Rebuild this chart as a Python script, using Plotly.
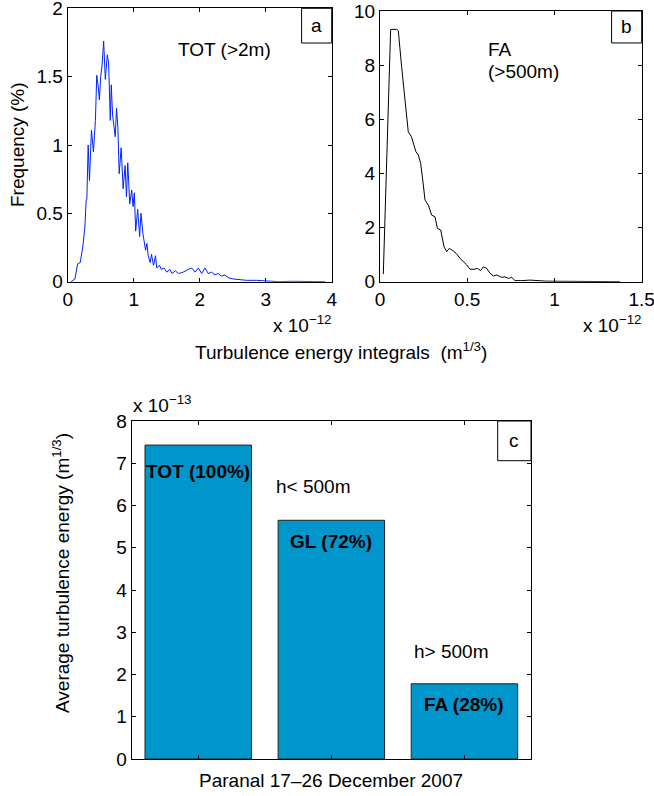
import plotly.graph_objects as go

# Panel a: TOT (>2m) histogram, x in units of 1e-12 m^1/3, y in %
tot_x = [0.05, 0.11, 0.15, 0.19, 0.23, 0.26, 0.28, 0.29, 0.31, 0.33,
         0.36, 0.39, 0.42, 0.44, 0.46, 0.48, 0.50, 0.52, 0.545, 0.57,
         0.60, 0.62, 0.645, 0.66, 0.68, 0.72, 0.74, 0.76, 0.78, 0.81,
         0.84, 0.87, 0.89, 0.91, 0.94, 0.97, 0.99, 1.01, 1.03, 1.06,
         1.09, 1.11, 1.14, 1.16, 1.18, 1.20, 1.22, 1.25, 1.27, 1.30,
         1.33, 1.35, 1.39, 1.42, 1.46, 1.50, 1.55, 1.58, 1.63, 1.68,
         1.75, 1.83, 1.88, 1.93, 1.98, 2.03, 2.08, 2.13, 2.18, 2.23,
         2.28, 2.33, 2.38, 2.43, 2.51, 2.61, 2.71, 2.86, 3.01, 3.2,
         3.4, 3.6, 3.9]
tot_y = [0.0, 0.02, 0.13, 0.14, 0.26, 0.40, 0.60, 0.60, 1.00, 0.74,
         1.11, 0.95, 1.18, 1.51, 1.44, 1.33, 1.50, 1.58, 1.76, 1.48,
         1.66, 1.60, 1.18, 1.44, 1.22, 1.06, 1.27, 1.13, 0.79, 0.98,
         0.68, 0.85, 0.62, 0.87, 0.57, 0.67, 0.55, 0.65, 0.37, 0.53,
         0.33, 0.50, 0.35, 0.29, 0.23, 0.28, 0.19, 0.14, 0.20, 0.12,
         0.19, 0.10, 0.12, 0.09, 0.10, 0.07, 0.09, 0.06, 0.08, 0.06,
         0.07, 0.09, 0.10, 0.07, 0.10, 0.06, 0.10, 0.06, 0.07, 0.05,
         0.06, 0.04, 0.05, 0.03, 0.02, 0.015, 0.01, 0.01, 0.005, 0.0,
         0.003, 0.0, 0.0]

# Panel b: FA (>500m) histogram
fa_x = [0.019, 0.061, 0.096, 0.105, 0.124, 0.143, 0.162, 0.18, 0.195, 0.206,
        0.22, 0.233, 0.245, 0.258, 0.277, 0.296, 0.315, 0.329, 0.348, 0.367,
        0.382, 0.397, 0.417, 0.436, 0.459, 0.478, 0.497, 0.516, 0.539, 0.558,
        0.577, 0.592, 0.612, 0.631, 0.650, 0.669, 0.697, 0.717, 0.736, 0.755,
        0.774, 0.812, 0.86, 0.955, 1.05, 1.2, 1.376]
fa_y = [0.28, 9.32, 9.32, 9.27, 7.94, 6.83, 5.54, 5.36, 4.99, 4.80,
        4.68, 4.37, 3.76, 3.02, 2.83, 2.46, 2.40, 1.97, 1.91, 1.29,
        1.11, 1.23, 1.15, 1.05, 0.86, 0.74, 0.62, 0.46, 0.46, 0.49,
        0.41, 0.55, 0.49, 0.31, 0.21, 0.25, 0.16, 0.18, 0.12, 0.16,
        0.04, 0.04, 0.06, 0.02, 0.01, 0.0, 0.0]

# Panel c: average turbulence energy, units of 1e-13 m^1/3
bar_pos = [1, 2, 3]
bar_vals = [7.43, 5.65, 1.78]
bar_labels = ["TOT (100%)", "GL (72%)", "FA (28%)"]
bar_label_y = [6.8, 5.14, 1.28]

a_xticks = [0, 1, 2, 3, 4]
a_yticks = [0, 0.5, 1, 1.5, 2]
b_xticks = [0, 0.5, 1, 1.5]
b_yticks = [0, 2, 4, 6, 8, 10]
c_yticks = [0, 1, 2, 3, 4, 5, 6, 7, 8]

W, H = 654, 796
FONT = "Liberation Sans, Arial, Helvetica, sans-serif"
FS = 19


def px(x):
    return x / W


def py(y):
    return 1 - y / H


fig = go.Figure()
fig.add_trace(go.Scatter(x=tot_x, y=tot_y, mode="lines",
                         line=dict(color="#0022ff", width=1),
                         xaxis="x", yaxis="y", showlegend=False))
fig.add_trace(go.Scatter(x=fa_x, y=fa_y, mode="lines",
                         line=dict(color="black", width=1),
                         xaxis="x2", yaxis="y2", showlegend=False))
fig.add_trace(go.Bar(x=bar_pos, y=bar_vals, width=0.8,
                     marker=dict(color="#0096cc", line=dict(color="#222222", width=1)),
                     xaxis="x3", yaxis="y3", showlegend=False))

axis_common = dict(showline=True, linecolor="black", linewidth=1, mirror="ticks",
                   ticks="inside", ticklen=4, tickcolor="black", showgrid=False,
                   zeroline=False, automargin=False, ticklabeloverflow="allow",
                   tickfont=dict(size=FS, color="black", family=FONT))

fig.update_layout(
    width=W, height=H, margin=dict(l=0, r=0, t=0, b=0),
    paper_bgcolor="white", plot_bgcolor="white",
    font=dict(family=FONT, color="black", size=FS),
    xaxis=dict(domain=[px(67.7), px(331.7)], anchor="y", range=[0, 4],
               tickvals=a_xticks, **axis_common),
    yaxis=dict(domain=[py(281.7), py(8.3)], anchor="x", range=[0, 2],
               tickvals=a_yticks, ticktext=["0", "0.5", "1", "1.5", "2"], **axis_common),
    xaxis2=dict(domain=[px(380), px(641.7)], anchor="y2", range=[0, 1.5],
                tickvals=b_xticks, ticktext=["0", "0.5", "1", "1.5"], **axis_common),
    yaxis2=dict(domain=[py(281.7), py(11)], anchor="x2", range=[0, 10],
                tickvals=b_yticks, **axis_common),
    xaxis3=dict(domain=[px(131.7), px(531)], anchor="y3", range=[0.5, 3.5],
                tickvals=bar_pos, ticktext=["", "", ""], **axis_common),
    yaxis3=dict(domain=[py(759), py(421)], anchor="x3", range=[0, 8],
                tickvals=c_yticks, **axis_common),
)

anns = []
shapes = []

# corner boxes
for xr, yr, x0, y0, lab in [("x", "y", 0.886, 0.873, "a"),
                            ("x2", "y2", 0.885, 0.882, "b"),
                            ("x3", "y3", 0.9166, 0.8825, "c")]:
    shapes.append(dict(type="rect", xref=xr + " domain", yref=yr + " domain",
                       x0=x0, x1=1, y0=y0, y1=1, line=dict(color="black", width=1),
                       fillcolor="white", layer="above"))
    anns.append(dict(xref=xr + " domain", yref=yr + " domain", x=(x0 + 1) / 2,
                     y=(y0 + 1) / 2, text=lab, showarrow=False,
                     font=dict(size=FS), xanchor="center", yanchor="middle"))


def label(x, y, text, xanchor="center", angle=0):
    return dict(x=px(x), y=py(y), xref="paper", yref="paper", text=text,
                showarrow=False, xanchor=xanchor, yanchor="middle",
                textangle=angle, font=dict(size=FS))


anns += [
    label(17, 145, "Frequency (%)", angle=-90),
    label(224, 50, "TOT (>2m)"),
    label(486, 50, "FA", xanchor="left"),
    label(486, 72, "(>500m)", xanchor="left"),
    label(333, 324, "x 10<sup>−12</sup>", xanchor="right"),
    label(643, 324, "x 10<sup>−12</sup>", xanchor="right"),
    label(341, 351, "Turbulence energy integrals  (m<sup>1/3</sup>)"),
    label(131, 404, "x 10<sup>−13</sup>", xanchor="left"),
    label(61, 573, "Average turbulence energy (m<sup>1/3</sup>)", angle=-90),
    label(331, 780, "Paranal 17–26 December 2007"),
    label(313, 486, "h< 500m"),
    label(451, 651, "h> 500m"),
]

for xp, yl, lab in zip(bar_pos, bar_label_y, bar_labels):
    anns.append(dict(x=xp, y=yl, xref="x3", yref="y3", text="<b>" + lab + "</b>",
                     showarrow=False, xanchor="center", yanchor="middle",
                     font=dict(size=FS, color="black")))

fig.update_layout(annotations=anns, shapes=shapes)
fig.write_html("out.html", config={"displayModeBar": False},
               post_script="document.body.style.margin='0px';")
